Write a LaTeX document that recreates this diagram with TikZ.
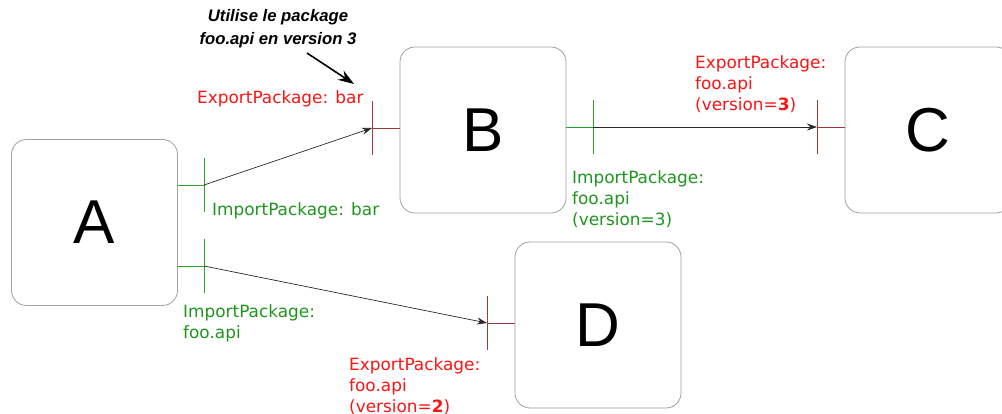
\documentclass[tikz,border=0pt]{standalone}
\usepackage{fontspec}
\setmainfont{DejaVu Sans}
\newfontfamily\annfont{Liberation Sans}
\usetikzlibrary{arrows.meta}
\definecolor{expred}{RGB}{250,20,20}
\definecolor{impgreen}{RGB}{30,150,30}
\definecolor{portred}{RGB}{165,55,60}
\definecolor{portgreen}{RGB}{40,165,40}
\definecolor{boxgrey}{RGB}{160,160,160}
\definecolor{wire}{RGB}{40,40,40}
\begin{document}
\begin{tikzpicture}[x=1pt,y=-1pt,
  bundle/.style={draw=boxgrey, line width=0.8pt, rounded corners=15pt, inner sep=0pt,
    minimum width=166pt, minimum height=166pt, font=\annfont\fontsize{62}{62}\selectfont},
  exportport/.style={draw=portred, line width=0.9pt},
  importport/.style={draw=portgreen, line width=0.9pt},
  explabel/.style={text=expred, anchor=north west, inner sep=0pt, align=left,
    font=\fontsize{16.9}{21}\selectfont},
  implabel/.style={text=impgreen, anchor=north west, inner sep=0pt, align=left,
    font=\fontsize{16.9}{21}\selectfont},
  wirearrow/.style={draw=wire, line width=0.7pt, -{Stealth[length=10pt,width=7pt]}},
  notearrow/.style={draw=black, line width=1.6pt, -{Stealth[length=16pt,width=11pt]}}
]
\clip (0,0) rectangle (1002,414);
\useasboundingbox (0,0) rectangle (1002,414);

% bundles
\node[bundle] (A) at (94.5,222.5) {A};
\node[bundle] (B) at (483,130) {B};
\node[bundle] (C) at (928,130) {C};
\node[bundle] (D) at (598,325) {D};

% port junctions
\coordinate (Aout1) at (204,185);
\coordinate (Aout2) at (204,266);
\coordinate (Bin) at (372,128);
\coordinate (Bout) at (593,127);
\coordinate (Cin) at (817,127);
\coordinate (Din) at (487,323);

% import ports (green)
\draw[importport] (Aout1 -| A.east) -- (Aout1);
\draw[importport] ([yshift=27pt]Aout1) -- ([yshift=-27pt]Aout1);
\draw[importport] (Aout2 -| A.east) -- (Aout2);
\draw[importport] ([yshift=27pt]Aout2) -- ([yshift=-27pt]Aout2);
\draw[importport] (Bout -| B.east) -- (Bout);
\draw[importport] ([yshift=27pt]Bout) -- ([yshift=-27pt]Bout);

% export ports (red)
\draw[exportport] (Bin -| B.west) -- (Bin);
\draw[exportport] ([yshift=27pt]Bin) -- ([yshift=-27pt]Bin);
\draw[exportport] (Cin -| C.west) -- (Cin);
\draw[exportport] ([yshift=27pt]Cin) -- ([yshift=-27pt]Cin);
\draw[exportport] (Din -| D.west) -- (Din);
\draw[exportport] ([yshift=27pt]Din) -- ([yshift=-27pt]Din);

% wires
\draw[wirearrow] (Aout1) -- (Bin);
\draw[wirearrow] (Bout) -- (Cin);
\draw[wirearrow] (Aout2) -- (Din);

% labels
\node[explabel] (eB) at (197,90) {ExportPackage: bar};
\node[explabel] (eC) at (695,55) {ExportPackage:\\foo.api\\(version=\textbf{3})};
\node[explabel] (eD) at (349,357) {ExportPackage:\\foo.api\\(version=\textbf{2})};
\node[implabel] (iA1) at (212,202) {ImportPackage: bar};
\node[implabel] (iA2) at (183,304) {ImportPackage:\\foo.api};
\node[implabel] (iB) at (572,170) {ImportPackage:\\foo.api\\(version=3)};

% annotation
\node[anchor=north, inner sep=0pt, align=center,
  font=\annfont\bfseries\itshape\fontsize{16.7}{23.5}\selectfont] (note) at (278,9)
  {Utilise le package\\foo.api en version 3};
\coordinate (noteFrom) at (307,53);
\coordinate (noteTo) at (354,84);
\draw[notearrow] (noteFrom) -- (noteTo);
\end{tikzpicture}
\end{document}
